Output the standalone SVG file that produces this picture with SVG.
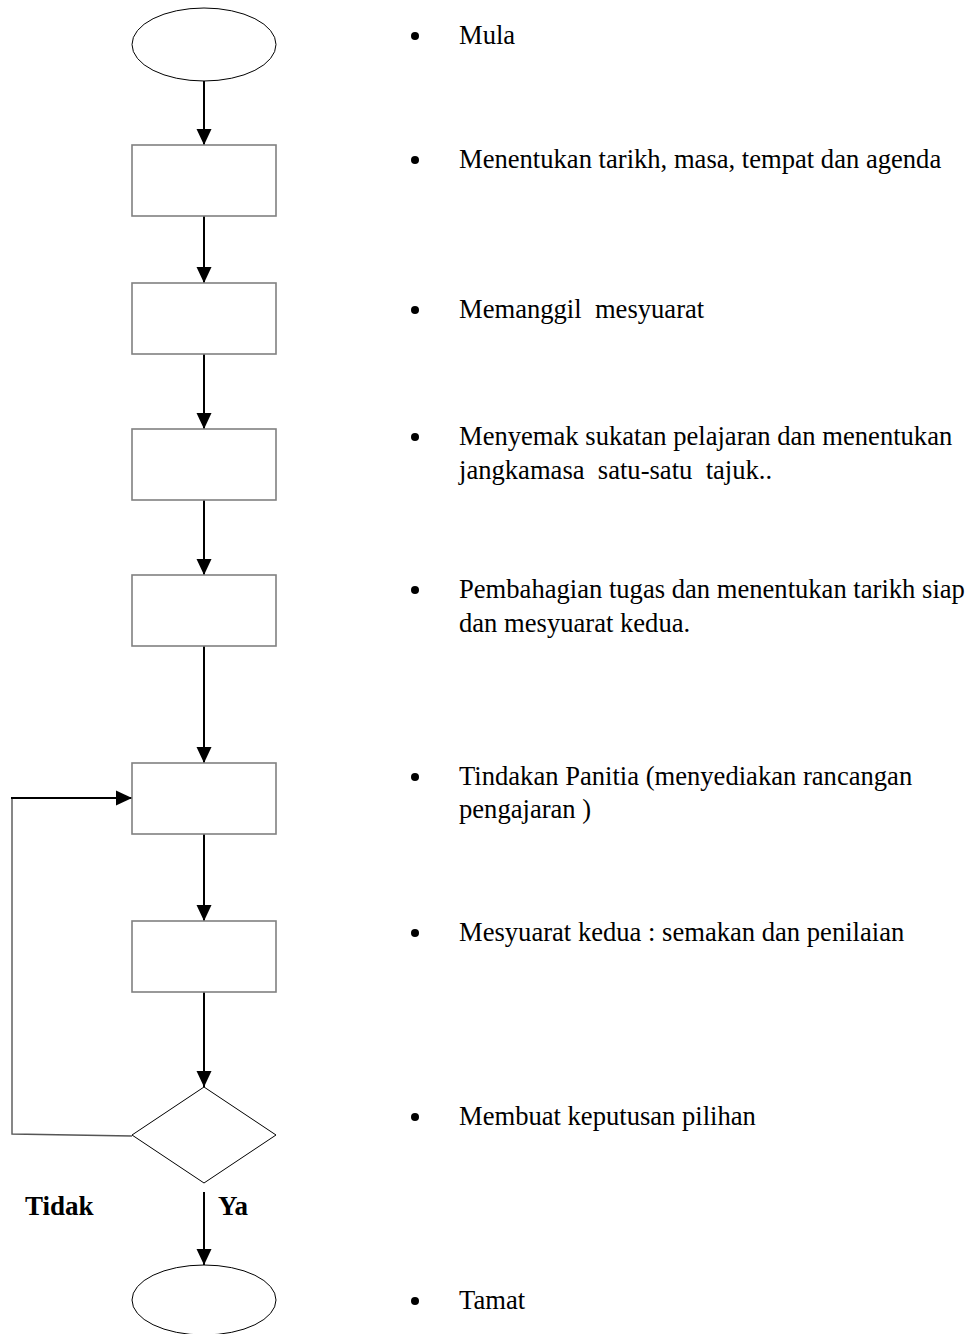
<svg xmlns="http://www.w3.org/2000/svg" width="972" height="1334" viewBox="0 0 972 1334">
  <style>
    .term { fill: #fff; stroke: #000; stroke-width: 1; }
    .box { fill: #fff; stroke: #808080; stroke-width: 1.6; }
    .dec { fill: #fff; stroke: #000; stroke-width: 1; }
    .flow { fill: none; stroke: #000; stroke-width: 2; marker-end: url(#head); }
    .loop { fill: none; stroke: #555; stroke-width: 1.4; }
    .label { font-family: "Liberation Serif", "Times New Roman", serif; font-size: 26.6px; fill: #000; }
    .yn { font-family: "Liberation Serif", "Times New Roman", serif; font-size: 27px; font-weight: bold; fill: #000; }
  </style>
  <defs>
    <marker id="head" markerUnits="userSpaceOnUse" markerWidth="17" markerHeight="17" viewBox="0 0 17 17" refX="16" refY="8.5" orient="auto">
      <path d="M0,1 L16,8.5 L0,16 Z" fill="#000"/>
    </marker>
  </defs>
  <rect width="972" height="1334" fill="#fff"/>

  <!-- connectors -->
  <g id="connectors">
    <line class="flow" x1="204" y1="81" x2="204" y2="145"/>
    <line class="flow" x1="204" y1="216" x2="204" y2="283"/>
    <line class="flow" x1="204" y1="354" x2="204" y2="429"/>
    <line class="flow" x1="204" y1="500" x2="204" y2="575"/>
    <line class="flow" x1="204" y1="646" x2="204" y2="763"/>
    <line class="flow" x1="204" y1="834" x2="204" y2="921"/>
    <line class="flow" x1="204" y1="992" x2="204" y2="1087"/>
    <line class="flow" x1="204" y1="1192" x2="204" y2="1265"/>
    <polyline class="loop" points="132,1136 12,1134 12,798"/>
    <line class="flow" x1="11" y1="798" x2="132" y2="798"/>
  </g>

  <!-- flowchart nodes -->
  <g id="start"><ellipse class="term" cx="204" cy="44.5" rx="72" ry="36.5"/></g>
  <g id="step1"><rect class="box" x="132" y="145" width="144" height="71"/></g>
  <g id="step2"><rect class="box" x="132" y="283" width="144" height="71"/></g>
  <g id="step3"><rect class="box" x="132" y="429" width="144" height="71"/></g>
  <g id="step4"><rect class="box" x="132" y="575" width="144" height="71"/></g>
  <g id="step5"><rect class="box" x="132" y="763" width="144" height="71"/></g>
  <g id="step6"><rect class="box" x="132" y="921" width="144" height="71"/></g>
  <g id="decision"><polygon class="dec" points="204,1087 276,1135 204,1183 132,1135"/></g>
  <g id="end"><ellipse class="term" cx="204" cy="1300" rx="72" ry="35"/></g>

  <!-- branch labels -->
  <g id="branch-labels">
    <text class="yn" x="25" y="1215">Tidak</text>
    <text class="yn" x="218" y="1215">Ya</text>
  </g>

  <!-- step descriptions -->
  <g id="legend">
    <g id="legend-bullets" fill="#000">
      <circle cx="415" cy="36" r="4"/>
      <circle cx="415" cy="160" r="4"/>
      <circle cx="415" cy="310" r="4"/>
      <circle cx="415" cy="437" r="4"/>
      <circle cx="415" cy="590" r="4"/>
      <circle cx="415" cy="777" r="4"/>
      <circle cx="415" cy="933" r="4"/>
      <circle cx="415" cy="1117" r="4"/>
      <circle cx="415" cy="1301" r="4"/>
    </g>
    <text class="label" x="459" y="44">Mula</text>
    <text class="label" x="459" y="168">Menentukan tarikh, masa, tempat dan agenda</text>
    <text class="label" x="459" y="318" xml:space="preserve">Memanggil  mesyuarat</text>
    <text class="label" x="459" y="445">Menyemak sukatan pelajaran dan menentukan</text>
    <text class="label" x="459" y="479" xml:space="preserve">jangkamasa  satu-satu  tajuk..</text>
    <text class="label" x="459" y="598">Pembahagian tugas dan menentukan tarikh siap</text>
    <text class="label" x="459" y="632">dan mesyuarat kedua.</text>
    <text class="label" x="459" y="785">Tindakan Panitia (menyediakan rancangan</text>
    <text class="label" x="459" y="818">pengajaran )</text>
    <text class="label" x="459" y="941">Mesyuarat kedua : semakan dan penilaian</text>
    <text class="label" x="459" y="1125">Membuat keputusan pilihan</text>
    <text class="label" x="459" y="1309">Tamat</text>
  </g>
</svg>
